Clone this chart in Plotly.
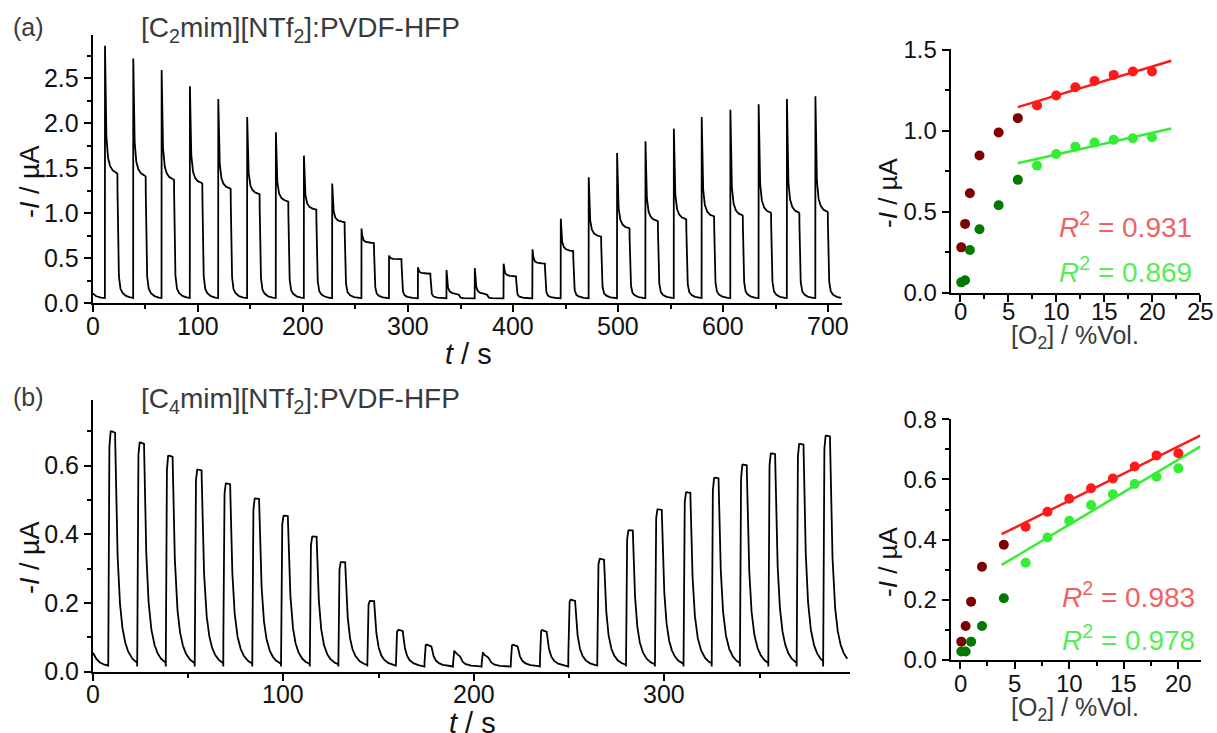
import numpy as np
import plotly.graph_objects as go

W, H = 1217, 733
OFF = 0  # body margin removed via post_script
FW, FH = W - OFF, H - OFF

# ---------------- Data: panel (a) [C2mim][NTf2] chronoamperometry ----------------
a_on = [11.7, 38.6, 65.6, 92.5, 119.5, 147.0, 174.3, 201.0, 227.9, 255.8, 282.0, 309.5, 336.7,
        363.6, 391.0, 418.5, 445.4, 472.0, 499.0, 526.0, 553.0, 579.5, 606.8, 633.7, 660.6, 687.7]
a_off = [23.5, 50.4, 77.4, 104.3, 131.3, 158.8, 186.1, 212.8, 239.7, 267.6, 293.8, 321.3, 348.5,
         375.4, 402.8, 430.3, 457.2, 483.8, 510.8, 537.8, 564.8, 591.3, 618.6, 645.5, 672.4, 699.5]
a_peak = [2.86, 2.72, 2.59, 2.41, 2.27, 2.07, 1.90, 1.64, 1.33, 0.83, 0.53, 0.40, 0.37,
          0.39, 0.44, 0.60, 0.94, 1.40, 1.67, 1.80, 1.94, 2.07, 2.15, 2.21, 2.27, 2.30]
a_end = [1.44, 1.41, 1.37, 1.33, 1.27, 1.21, 1.13, 1.04, 0.90, 0.67, 0.49, 0.33, 0.10,
         0.10, 0.30, 0.44, 0.58, 0.74, 0.83, 0.91, 0.93, 0.96, 0.97, 1.00, 1.00, 1.01]
a_start, a_base, a_tmax = 0.11, 0.055, 712.0
a_xticks = [0, 100, 200, 300, 400, 500, 600, 700]

# ---------------- Data: panel (b) [C4mim][NTf2] chronoamperometry ----------------
b_on = [8.0, 23.2, 38.2, 53.4, 68.4, 83.6, 98.7, 113.8, 128.8, 144.0, 159.0, 174.0, 189.0,
        204.0, 219.3, 234.6, 249.5, 264.7, 279.8, 295.0, 310.0, 324.8, 339.6, 354.5, 369.4, 383.3]
b_off = [11.6, 26.8, 41.8, 57.0, 72.0, 87.2, 102.3, 117.4, 132.4, 147.6, 162.6, 177.6, 192.6,
         207.6, 222.9, 238.2, 253.1, 268.3, 283.4, 298.6, 313.6, 328.4, 343.2, 358.1, 373.0, 386.9]
b_peak = [0.719, 0.685, 0.646, 0.602, 0.560, 0.515, 0.463, 0.401, 0.325, 0.211, 0.129, 0.087, 0.075,
          0.070, 0.085, 0.133, 0.221, 0.340, 0.421, 0.483, 0.532, 0.576, 0.615, 0.649, 0.677, 0.701]
b_end = [0.694, 0.662, 0.624, 0.585, 0.545, 0.502, 0.452, 0.392, 0.318, 0.205, 0.118, 0.075, 0.045,
         0.040, 0.075, 0.115, 0.205, 0.325, 0.410, 0.470, 0.520, 0.562, 0.600, 0.632, 0.660, 0.684]
b_start, b_base, b_tmax = 0.055, 0.015, 396.0
b_xticks = [0, 100, 200, 300]

# ---------------- Data: calibration panels ----------------
o2_low = [0.1, 0.5, 1, 2, 4, 6]
o2_high = [8, 10, 12, 14, 16, 18, 20]
c_red_low = [0.28, 0.425, 0.614, 0.847, 0.989, 1.078]
c_red_high = [1.156, 1.218, 1.269, 1.308, 1.345, 1.366, 1.366]
c_grn_low = [0.064, 0.077, 0.264, 0.392, 0.540, 0.697]
c_grn_high = [0.785, 0.857, 0.902, 0.927, 0.944, 0.954, 0.960]
c_red_fit_x, c_red_fit_y = [6, 22], [1.146, 1.432]
c_grn_fit_x, c_grn_fit_y = [6, 22], [0.800, 1.014]
c_r2 = ["0.931", "0.869"]
c_xticks = [0, 5, 10, 15, 20, 25]

o2_low_d = [0.1, 0.5, 1, 2, 4]
o2_high_d = [6, 8, 10, 12, 14, 16, 18, 20]
d_red_low = [0.061, 0.113, 0.194, 0.310, 0.383]
d_red_high = [0.443, 0.493, 0.536, 0.571, 0.603, 0.643, 0.680, 0.687]
d_grn_low = [0.028, 0.028, 0.061, 0.113, 0.205]
d_grn_high = [0.323, 0.407, 0.463, 0.515, 0.551, 0.585, 0.609, 0.637]
d_red_fit_x, d_red_fit_y = [3.8, 22], [0.418, 0.746]
d_grn_fit_x, d_grn_fit_y = [3.8, 22], [0.316, 0.709]
d_r2 = ["0.983", "0.978"]
d_xticks = [0, 5, 10, 15, 20]


def trace_a(t):
    y = a_base + (a_start - a_base) * np.exp(-t / 4.0)
    for i in range(len(a_on)):
        on, off = a_on[i], a_off[i]
        nxt = a_on[i + 1] if i + 1 < len(a_on) else 1e9
        m = (t >= on) & (t < off)
        dt = t[m] - on
        y[m] = a_end[i] + (a_peak[i] - a_end[i]) * (0.7 * np.exp(-dt / 0.7) + 0.3 * np.exp(-dt / 3.0))
        m2 = (t >= off) & (t < nxt)
        dt = t[m2] - off
        y[m2] = a_base + (a_end[i] - a_base) * (0.85 * np.exp(-dt / 0.6) + 0.15 * np.exp(-dt / 4.0))
    return y


def trace_b(t):
    y = b_base + (b_start - b_base) * np.exp(-t / 3.0)
    for i in range(len(b_on)):
        on, off = b_on[i], b_off[i]
        nxt = b_on[i + 1] if i + 1 < len(b_on) else 1e9
        m = (t >= on) & (t < off)
        dt = t[m] - on
        rise = 1 - np.exp(-dt / 0.25)
        top = b_end[i] + (b_peak[i] - b_end[i]) * np.exp(-dt / 1.3)
        y[m] = b_base + (top - b_base) * rise
        d_off = off - on
        v_off = b_base + (b_end[i] + (b_peak[i] - b_end[i]) * np.exp(-d_off / 1.3) - b_base) * (1 - np.exp(-d_off / 0.25))
        m2 = (t >= off) & (t < nxt)
        dt = t[m2] - off
        y[m2] = b_base + (v_off - b_base) * (0.55 * np.exp(-dt / 1.1) + 0.45 * np.exp(-dt / 3.5))
    return y


ta = np.arange(0, a_tmax, 0.1)
tb = np.arange(0, b_tmax, 0.05)
ya = trace_a(ta)
yb = trace_b(tb)

FONT = "Liberation Sans, Arial, sans-serif"
DARKRED, RED, DARKGRN, GRN = "#7f0000", "#ff1a1a", "#007a00", "#33ee33"


def dom_x(p0, p1):
    return [(p0 - OFF) / FW, (p1 - OFF) / FW]


def dom_y(top, bottom):
    return [1 - (bottom - OFF) / FH, 1 - (top - OFF) / FH]


fig = go.Figure()
fig.add_trace(go.Scatter(x=ta, y=ya, mode="lines", line=dict(color="black", width=1.8),
                         xaxis="x", yaxis="y", showlegend=False))
fig.add_trace(go.Scatter(x=tb, y=yb, mode="lines", line=dict(color="black", width=1.8),
                         xaxis="x2", yaxis="y2", showlegend=False))

# panel c
fig.add_trace(go.Scatter(x=c_red_fit_x, y=c_red_fit_y, mode="lines", line=dict(color=RED, width=2.5),
                         xaxis="x3", yaxis="y3", showlegend=False))
fig.add_trace(go.Scatter(x=c_grn_fit_x, y=c_grn_fit_y, mode="lines", line=dict(color=GRN, width=2.5),
                         xaxis="x3", yaxis="y3", showlegend=False))
for xs, ys, col in [(o2_low, c_red_low, DARKRED), (o2_high, c_red_high, RED),
                    (o2_low, c_grn_low, DARKGRN), (o2_high, c_grn_high, GRN)]:
    fig.add_trace(go.Scatter(x=xs, y=ys, mode="markers", marker=dict(color=col, size=10),
                             xaxis="x3", yaxis="y3", showlegend=False, cliponaxis=False))
# panel d
fig.add_trace(go.Scatter(x=d_red_fit_x, y=d_red_fit_y, mode="lines", line=dict(color=RED, width=2.5),
                         xaxis="x4", yaxis="y4", showlegend=False))
fig.add_trace(go.Scatter(x=d_grn_fit_x, y=d_grn_fit_y, mode="lines", line=dict(color=GRN, width=2.5),
                         xaxis="x4", yaxis="y4", showlegend=False))
for xs, ys, col in [(o2_low_d, d_red_low, DARKRED), (o2_high_d, d_red_high, RED),
                    (o2_low_d, d_grn_low, DARKGRN), (o2_high_d, d_grn_high, GRN)]:
    fig.add_trace(go.Scatter(x=xs, y=ys, mode="markers", marker=dict(color=col, size=10),
                             xaxis="x4", yaxis="y4", showlegend=False, cliponaxis=False))


def axis(domain, rng, dtick, minor, fmt=None, anchor=None, fsize=25, labels=True, tickvals=None):
    d = dict(domain=domain, range=rng, dtick=dtick, tick0=0, showline=True, linecolor="black",
             linewidth=2, ticks="outside", ticklen=7, tickwidth=2, tickcolor="black",
             showgrid=False, zeroline=False, tickfont=dict(family=FONT, size=fsize, color="#111"),
             anchor=anchor, automargin=False, showticklabels=labels,
             minor=dict(dtick=minor, tick0=0, ticks="outside", ticklen=4, tickwidth=1.5, tickcolor="black", showgrid=False))
    if tickvals is not None:
        d["tickmode"] = "array"
        d["tickvals"] = tickvals
    if fmt:
        d["tickformat"] = fmt
    return d


fig.update_layout(
    width=FW, height=FH, margin=dict(l=0, r=0, t=0, b=0, autoexpand=False),
    paper_bgcolor="white", plot_bgcolor="white",
    xaxis=axis(dom_x(92.7, 842), [0, 713], 100, 50, anchor="y", labels=False, tickvals=a_xticks),
    yaxis=axis(dom_y(35, 303.3), [0, 2.98], 0.5, 0.25, ".1f", anchor="x"),
    xaxis2=axis(dom_x(93, 850), [0, 397.4], 100, 50, anchor="y2", labels=False, tickvals=b_xticks),
    yaxis2=axis(dom_y(400, 671.7), [0, 0.791], 0.2, 0.1, ".1f", anchor="x2"),
    xaxis3=axis(dom_x(950.7, 1200), [-1, 25], 5, 2.5, anchor="y3", labels=False, tickvals=c_xticks),
    yaxis3=axis(dom_y(49, 292.7), [0, 1.505], 0.5, 0.25, ".1f", anchor="x3", fsize=24),
    xaxis4=axis(dom_x(950.7, 1200.7), [-0.87, 22.05], 5, 2.5, anchor="y4", labels=False, tickvals=d_xticks),
    yaxis4=axis(dom_y(419, 660), [0, 0.801], 0.2, 0.1, ".1f", anchor="x4", fsize=24),
)


def ann(text, px, py, size, color="#111", xanchor="center", yanchor="middle", angle=0):
    fig.add_annotation(text=text, x=(px - OFF) / FW, y=1 - (py - OFF) / FH, xref="paper", yref="paper",
                       showarrow=False, xanchor=xanchor, yanchor=yanchor, textangle=angle,
                       font=dict(family=FONT, size=size, color=color))


# x tick labels placed as annotations (positioned by the axis scale)
for ticks, xref, py, size in [(a_xticks, "x", 326, 25), (b_xticks, "x2", 693.5, 25),
                              (c_xticks, "x3", 311.7, 24), (d_xticks, "x4", 683, 24)]:
    for v in ticks:
        fig.add_annotation(text=str(v), x=v, xref=xref, y=1 - (py - OFF) / FH, yref="paper",
                           showarrow=False, xanchor="center", yanchor="middle",
                           font=dict(family=FONT, size=size, color="#111"))

GRAY = "#3a3a3a"
ann("(a)", 11, 27, 25, GRAY, xanchor="left")
ann("[C<sub>2</sub>mim][NTf<sub>2</sub>]:PVDF-HFP", 139, 30, 28, GRAY, xanchor="left")
ann("(b)", 11, 397, 25, GRAY, xanchor="left")
ann("[C<sub>4</sub>mim][NTf<sub>2</sub>]:PVDF-HFP", 139, 400, 28, GRAY, xanchor="left")

ann("-<i>I</i> / µA", 30, 182, 27, angle=-90)
ann("-<i>I</i> / µA", 30, 558, 27, angle=-90)
ann("-<i>I</i> / µA", 888, 193, 26, angle=-90)
ann("-<i>I</i> / µA", 888, 562, 26, angle=-90)

ann("<i>t</i> / s", 468, 354, 29)
ann("<i>t</i> / s", 472, 723, 29)
ann("[O<sub>2</sub>] / %Vol.", 1075, 337, 25, GRAY)
ann("[O<sub>2</sub>] / %Vol.", 1075, 709, 25, GRAY)

RT, GT = "#f06262", "#55ee55"
ann("<i>R</i><sup>2</sup> = " + c_r2[0], 1194, 225, 28, RT, xanchor="right")
ann("<i>R</i><sup>2</sup> = " + c_r2[1], 1194, 270, 28, GT, xanchor="right")
ann("<i>R</i><sup>2</sup> = " + d_r2[0], 1197, 595, 28, RT, xanchor="right")
ann("<i>R</i><sup>2</sup> = " + d_r2[1], 1197, 638, 28, GT, xanchor="right")

fig.write_html("out.html", config={"displayModeBar": False},
               post_script="document.body.style.margin='0px';document.body.style.overflow='hidden';")
